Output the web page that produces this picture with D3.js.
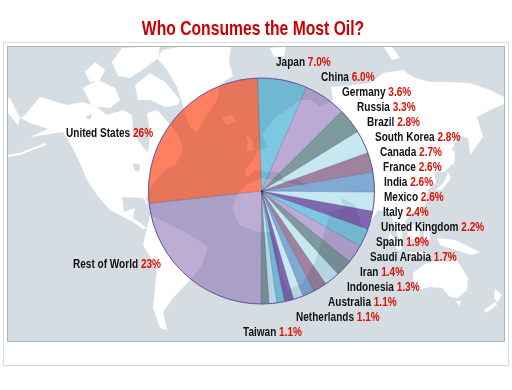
<!DOCTYPE html>
<html>
<head>
<meta charset="utf-8">
<script src="https://cdn.jsdelivr.net/npm/d3@7"></script>
<style>
  body { margin: 0; background: #fff; }
  text { font-family: "Liberation Sans", "Open Sans", sans-serif; font-weight: bold; }
</style>
</head>
<body>
<div id="chart"></div>
<script>
const countries = ["Japan", "China", "Germany", "Russia", "Brazil", "South Korea", "Canada", "France", "India", "Mexico", "Italy", "United Kingdom", "Spain", "Saudi Arabia", "Iran", "Indonesia", "Australia", "Netherlands", "Taiwan", "Rest of World", "United States"];
const shares = [7.0, 6.0, 3.6, 3.3, 2.8, 2.8, 2.7, 2.6, 2.6, 2.6, 2.4, 2.2, 1.9, 1.7, 1.4, 1.3, 1.1, 1.1, 1.1, 23, 26];
const sliceColors = ["#7cc8e0", "#bca9d4", "#7f9a9c", "#c6e8f0", "#a0829f", "#7faad4", "#c6e8f0", "#8068b0", "#7cc8e0", "#bca9d4", "#7f9a9c", "#c6e8f0", "#a0829f", "#7faad4", "#c6e8f0", "#8068b0", "#7cc8e0", "#c6e8f0", "#7f9a9c", "#bdadd4", "#ff8060"];

// left edge of each label, and its baseline
const labelX = [276, 321, 342, 357, 367, 375, 380, 383, 384, 384, 383, 381, 376, 370, 360, 347, 328, 296, 243, 73, 66];
const labelY = [66, 81, 96, 111, 126, 141, 156, 171, 186, 201, 216, 231, 246, 261, 276, 291, 306, 321, 336, 268, 137];

// background map in page pixels
const landShapes = [
  // north america
  [[25,115],[40,97],[67,105],[83,102],[97,107],[107,115],[123,110],[132,115],[133,133],[143,147],[148,153],[150,133],[147,113],[157,110],[168,122],[178,135],[183,150],[175,165],[165,170],[152,185],[146,198],[148,206],[143,198],[122,197],[124,212],[135,208],[133,218],[147,228],[143,229],[133,222],[110,210],[97,195],[87,180],[80,163],[70,143],[63,132],[43,135],[30,137],[48,129],[30,123],[20,118]],
  // south america
  [[147,228],[150,215],[167,223],[187,233],[208,247],[202,265],[190,280],[173,298],[163,312],[167,330],[160,328],[153,308],[157,268],[143,245]],
  // greenland
  [[157,58],[163,50],[178,47],[231,46],[229,62],[233,76],[220,84],[217,100],[205,118],[197,133],[190,127],[182,103],[177,87],[167,70]],
  // arctic islands
  [[135,85],[150,73],[165,82],[180,100],[178,105],[165,107],[150,100],[138,100]],
  [[83,88],[98,80],[115,88],[120,100],[110,108],[92,106]],
  [[112,62],[122,48],[160,46],[158,58],[145,68],[130,78],[118,76]],
  [[85,72],[95,62],[105,70],[100,80],[90,82]],
  // chukotka tip and aleutians at the left edge
  [[7,97],[10,98],[20,118],[18,125],[7,112]],
  [[8,155],[20,153],[45,143],[46,145],[20,155],[8,157]],
  // iceland, britain, svalbard, severnaya
  [[222,118],[232,115],[236,121],[226,125]],
  [[246,134],[252,140],[254,150],[246,152],[248,143]],
  [[270,48],[286,46],[284,56],[274,57]],
  [[383,46],[392,47],[400,58],[392,60]],
  // eurasia
  [[247,178],[245,170],[252,162],[258,150],[268,147],[262,135],[275,118],[300,100],[312,100],[320,107],[333,100],[331,87],[345,86],[370,83],[383,73],[403,70],[413,77],[430,82],[447,82],[470,83],[490,90],[504,97],[504,104],[490,110],[477,117],[483,137],[470,155],[468,138],[458,135],[452,150],[453,163],[445,172],[434,172],[436,182],[428,190],[425,205],[410,214],[404,225],[400,246],[396,230],[390,212],[378,210],[364,232],[355,205],[340,197],[345,208],[330,212],[318,208],[310,190],[300,180],[285,180],[278,172],[265,172],[255,170]],
  // africa
  [[247,184],[262,178],[285,182],[305,186],[312,192],[320,208],[330,214],[322,240],[315,262],[303,283],[288,290],[280,272],[277,248],[272,232],[258,232],[240,226],[232,208],[237,195]],
  // japan, sakhalin
  [[448,172],[451,178],[442,190],[436,190],[444,182]],
  [[452,150],[455,152],[454,166],[451,162]],
  // philippines, borneo, sumatra, java, new guinea
  [[417,203],[422,205],[423,217],[418,214]],
  [[407,225],[420,224],[420,238],[408,240]],
  [[390,233],[403,248],[399,251],[388,238]],
  [[407,252],[420,252],[433,255],[420,257]],
  [[423,225],[430,225],[430,240],[424,238]],
  [[437,238],[455,240],[480,252],[472,255],[455,250],[440,245]],
  // australia, tasmania, new zealand
  [[413,273],[423,265],[437,260],[448,262],[455,258],[460,265],[468,278],[467,290],[458,298],[450,297],[442,288],[430,287],[417,290],[413,283]],
  [[456,301],[461,301],[459,306]],
  [[495,289],[502,295],[497,303],[494,297]],
  [[495,302],[497,305],[486,313],[484,310]]
];
const lakeShapes = [
  [[85,117],[92,114],[90,120]],
  [[133,163],[140,165],[139,172],[134,170]]
];

const width = 512, height = 390;
const cx = 261.5, cy = 191, radius = 113;
const labelSqueeze = 0.785;

const svg = d3.select("#chart")
  .append("svg")
    .attr("width", width)
    .attr("height", height);

svg.append("text")
  .attr("transform", "translate(253,35) scale(0.785,1)")
  .attr("text-anchor", "middle")
  .attr("fill", "#cc0000")
  .style("font-size", "20px")
  .text("Who Consumes the Most Oil?");

// outer frame
svg.append("rect")
  .attr("x", 3.5).attr("y", 42.5)
  .attr("width", 505).attr("height", 323)
  .attr("fill", "#fff")
  .attr("stroke", "#d3deea");

// map panel
svg.append("clipPath").attr("id", "panel")
  .append("rect").attr("x", 7.5).attr("y", 46.5).attr("width", 497).attr("height", 295);

const map = svg.append("g").attr("clip-path", "url(#panel)");
map.append("rect").attr("x", 7.5).attr("y", 46.5).attr("width", 497).attr("height", 295).attr("fill", "#d5dde3");

const outline = d3.line().curve(d3.curveLinearClosed);
map.selectAll(".land").data(landShapes).join("path")
  .attr("class", "land").attr("d", outline).attr("fill", "#fff");
map.selectAll(".lake").data(lakeShapes).join("path")
  .attr("class", "lake").attr("d", outline).attr("fill", "#d5dde3");

svg.append("rect")
  .attr("x", 7.5).attr("y", 46.5).attr("width", 497).attr("height", 295)
  .attr("fill", "none").attr("stroke", "#b0b5b9");

// pie: a white veil flattens the map, then the slices multiply over it
const pie = d3.pie()
  .sort(null)
  .startAngle(-2 * Math.PI / 180)
  .endAngle(358 * Math.PI / 180);
const arc = d3.arc().innerRadius(0).outerRadius(radius);

const pieGroup = svg.append("g").attr("transform", `translate(${cx},${cy})`);
pieGroup.append("circle")
  .attr("r", radius)
  .attr("fill", "#fff")
  .attr("fill-opacity", 0.4);
pieGroup.selectAll(".slice")
  .data(pie(shares))
  .join("path")
    .attr("class", "slice")
    .attr("d", arc)
    .attr("fill", (d, i) => sliceColors[i])
    .style("mix-blend-mode", "multiply")
    .attr("stroke", "#5a4a8a")
    .attr("stroke-opacity", 0.25)
    .attr("stroke-width", 0.6);
pieGroup.append("circle")
  .attr("r", radius)
  .attr("fill", "none")
  .attr("stroke", "#6a54a4");

// labels
const label = svg.selectAll(".label")
  .data(countries)
  .join("text")
    .attr("class", "label")
    .attr("transform", (d, i) => `translate(${labelX[i]},${labelY[i]}) scale(${labelSqueeze},1)`)
    .style("font-size", "12.8px")
    .attr("fill", "#111");
label.append("tspan").text(d => d + " ");
label.append("tspan")
  .attr("fill", "#dd1100")
  .text((d, i) => (shares[i] >= 10 ? shares[i] : shares[i].toFixed(1)) + "%");
</script>
</body>
</html>
